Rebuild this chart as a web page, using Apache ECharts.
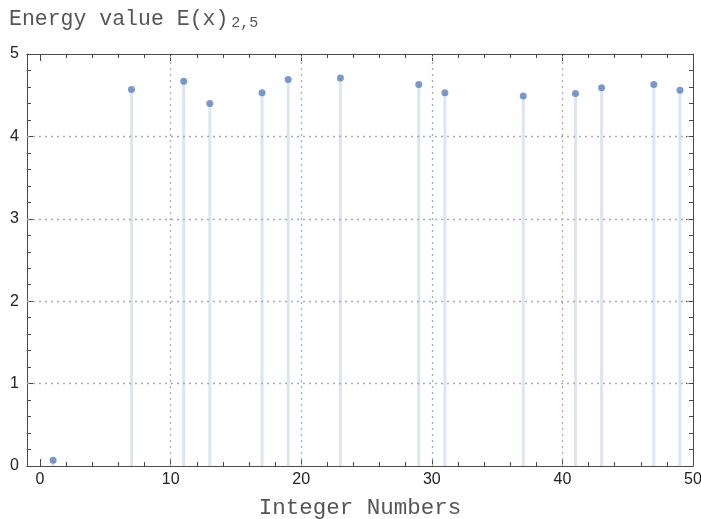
<!DOCTYPE html>
<html><head><meta charset="utf-8">
<script src="https://cdn.jsdelivr.net/npm/echarts@6/dist/echarts.min.js"></script>
<style>html,body{margin:0;padding:0;background:#fff}#c{width:701px;height:519px}</style>
</head><body><div id="c"></div>
<script>
const xValues = [1, 7, 11, 13, 17, 19, 23, 29, 31, 37, 41, 43, 47, 49];
const yValues = [0.07, 4.57, 4.67, 4.40, 4.53, 4.69, 4.71, 4.63, 4.53, 4.49, 4.52, 4.59, 4.63, 4.56];
const xMajorTicks = [0, 10, 20, 30, 40, 50];
const xMinorTicks = [2, 4, 6, 8, 12, 14, 16, 18, 22, 24, 26, 28, 32, 34, 36, 38, 42, 44, 46, 48];
const xGridLines = [10, 20, 30, 40];
const yGridLines = [1, 2, 3, 4];
const titleMain = 'Energy value E(x)';
const titleSub = '2,5';
const xTitle = 'Integer Numbers';

const pts = xValues.map((x, i) => [x, yValues[i]]);
const frame = '#4a4a4a';
const monoFont = '"Liberation Mono", "DejaVu Sans Mono", monospace';
const sansFont = '"Liberation Sans", Arial, sans-serif';

function xAx(pos, ticks, len, labels, extra) {
  return Object.assign({
    type: 'value', position: pos, min: -1, max: 50,
    axisLine: {show: true, onZero: false, lineStyle: {color: frame, width: 1}},
    axisTick: {show: true, inside: true, length: len, customValues: ticks, lineStyle: {color: frame}},
    axisLabel: labels ? {show: true, customValues: xMajorTicks, fontSize: 16, color: '#222', fontFamily: sansFont, margin: 6} : {show: false},
    splitLine: {show: false}
  }, extra || {});
}
function yAx(pos, labels) {
  return {
    type: 'value', position: pos, min: 0, max: 5, interval: 1,
    axisLine: {show: true, onZero: false, lineStyle: {color: frame, width: 1}},
    axisTick: {show: true, inside: true, length: 7, lineStyle: {color: frame}},
    minorTick: {show: true, splitNumber: 5, length: 4, lineStyle: {color: frame}},
    axisLabel: labels ? {show: true, fontSize: 16, color: '#222', fontFamily: sansFont, margin: 8} : {show: false},
    splitLine: {show: false}
  };
}

const chart = echarts.init(document.getElementById('c'), null, {renderer: 'canvas'});
chart.setOption({
  animation: false,
  title: {
    text: '{m|' + titleMain + '}{s|' + titleSub + '}',
    left: 9, top: 7, padding: 0,
    textStyle: {
      fontWeight: 'normal',
      rich: {
        m: {fontFamily: monoFont, fontSize: 21.5, color: '#555', fontWeight: 'normal'},
        s: {fontFamily: monoFont, fontSize: 15, color: '#555', fontWeight: 'normal', padding: [9, 0, 0, 3]}
      }
    }
  },
  grid: {left: 27, right: 8, top: 54, bottom: 53, containLabel: false, outerBoundsMode: 'none'},
  xAxis: [
    xAx('bottom', xMajorTicks, 7, true, {name: xTitle, nameLocation: 'middle', nameGap: 31,
      nameTextStyle: {fontFamily: monoFont, fontSize: 22.5, color: '#555'}}),
    xAx('bottom', xMinorTicks, 4, false),
    xAx('top', xMajorTicks, 7, false),
    xAx('top', xMinorTicks, 4, false)
  ],
  yAxis: [yAx('left', true), yAx('right', false)],
  series: [
    {
      type: 'line', xAxisIndex: 0, yAxisIndex: 0, data: [], silent: true,
      markLine: {
        silent: true, symbol: 'none', label: {show: false},
        lineStyle: {color: '#aaa', type: [2, 4], width: 1.3},
        data: xGridLines.map(v => ({xAxis: v})).concat(yGridLines.map(v => ({yAxis: v})))
      }
    },
    {
      type: 'bar', xAxisIndex: 0, yAxisIndex: 0, barWidth: 3, data: pts,
      itemStyle: {color: '#dce5f2'}, silent: true
    },
    {
      type: 'scatter', xAxisIndex: 0, yAxisIndex: 0, data: pts, symbolSize: 7,
      itemStyle: {color: '#5b80bd'}, silent: true, z: 5
    }
  ]
});
</script></body></html>
